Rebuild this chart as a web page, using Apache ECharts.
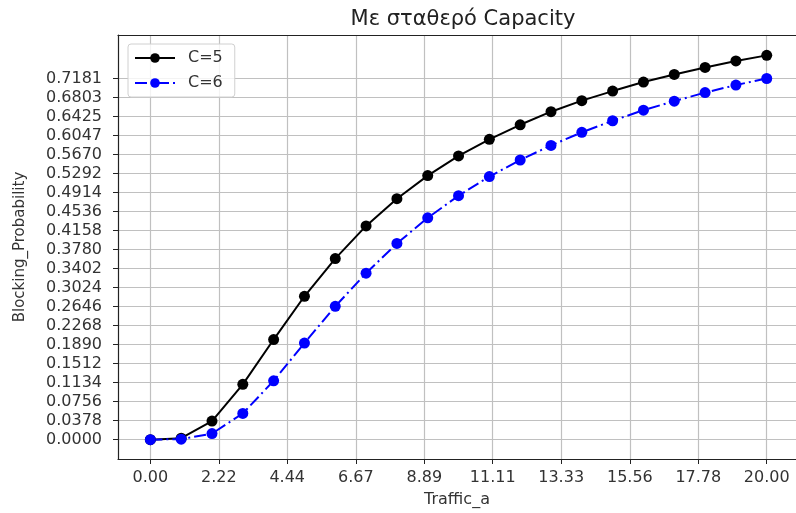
<!DOCTYPE html>
<html>
<head>
    <meta charset="utf-8">
    <script src="https://cdn.jsdelivr.net/npm/echarts@6/dist/echarts.min.js"></script>
    <style>
        html, body { margin: 0; padding: 0; background: #fff; }
    </style>
</head>
<body>
    <div id="main" style="width: 796px;height:513px;"></div>
    <script type="text/javascript">
        // data
        var traffic = [0, 1, 2, 3, 4, 5, 6, 7, 8, 9, 10, 11, 12, 13, 14, 15, 16, 17, 18, 19, 20];
        var blockC5 = [0.000, 0.003, 0.037, 0.110, 0.199, 0.285, 0.360, 0.425, 0.479, 0.525, 0.564,
                       0.597, 0.626, 0.652, 0.674, 0.693, 0.711, 0.726, 0.740, 0.753, 0.764];
        var blockC6 = [0.000, 0.001, 0.012, 0.052, 0.117, 0.192, 0.265, 0.331, 0.390, 0.441, 0.485,
                       0.523, 0.556, 0.585, 0.611, 0.634, 0.655, 0.673, 0.690, 0.705, 0.718];
        var xTicks = ['0.00', '2.22', '4.44', '6.67', '8.89', '11.11', '13.33', '15.56', '17.78', '20.00'];
        var yTicks = ['0.0000', '0.0378', '0.0756', '0.1134', '0.1512', '0.1890', '0.2268', '0.2646',
                      '0.3024', '0.3402', '0.3780', '0.4158', '0.4536', '0.4914', '0.5292', '0.5670',
                      '0.6047', '0.6425', '0.6803', '0.7181'];

        var xVals = xTicks.map(Number);
        var yVals = yTicks.map(Number);

        var pair = function (ys) {
            var res = [];
            for (var i = 0; i < traffic.length; i++) {
                res.push([traffic[i], ys[i]]);
            }
            return res;
        };

        var font = 'DejaVu Sans';
        var xMin = -1.05, xMax = 20.95;
        var myChart = echarts.init(document.getElementById('main'));

        var option = {
            backgroundColor: '#fff',
            animation: false,
            title: {
                text: 'Με σταθερό Capacity',
                left: 458,
                textAlign: 'center',
                top: 4,
                textStyle: { fontFamily: font, fontSize: 21, fontWeight: 'normal', color: '#222' }
            },
            legend: {
                orient: 'vertical',
                left: 128,
                top: 44,
                itemWidth: 40,
                itemHeight: 12,
                itemGap: 9,
                padding: [6, 12, 6, 6],
                borderColor: '#d0d0d0',
                borderWidth: 1,
                borderRadius: 3,
                backgroundColor: 'rgba(255,255,255,0.8)',
                textStyle: { fontFamily: font, fontSize: 16, color: '#333', padding: [0, 0, 0, 8] },
                data: ['C=5', 'C=6']
            },
            grid: { left: 118, right: 0, top: 35, bottom: 52, show: false },
            xAxis: [{
                type: 'value',
                min: xMin,
                max: xMax,
                name: 'Traffic_a',
                nameLocation: 'middle',
                nameGap: 33,
                nameTextStyle: { fontFamily: font, fontSize: 16, color: '#333' },
                axisLine: { show: true, onZero: false, lineStyle: { color: '#222', width: 1.2 } },
                axisTick: { show: true, customValues: xVals, length: 5, lineStyle: { color: '#222' } },
                axisLabel: {
                    customValues: xVals,
                    margin: 11,
                    fontFamily: font, fontSize: 16, color: '#333',
                    formatter: function (v) { return v.toFixed(2); }
                },
                splitLine: { show: true, lineStyle: { color: '#c0c0c0', width: 1.2 } }
            }, {
                // top spine only
                type: 'value',
                position: 'top',
                min: xMin,
                max: xMax,
                axisLine: { show: true, onZero: false, lineStyle: { color: '#222', width: 1.2 } },
                axisTick: { show: false },
                axisLabel: { show: false },
                splitLine: { show: false }
            }],
            yAxis: {
                type: 'value',
                min: -0.0385,
                max: 0.8045,
                name: 'Blocking_Probability',
                nameLocation: 'middle',
                nameGap: 90,
                nameTextStyle: { fontFamily: font, fontSize: 15, color: '#333' },
                axisLine: { show: true, onZero: false, lineStyle: { color: '#222', width: 1.2 } },
                axisTick: { show: true, customValues: yVals, length: 5, lineStyle: { color: '#222' } },
                axisLabel: {
                    customValues: yVals,
                    margin: 16,
                    fontFamily: font, fontSize: 16, color: '#333',
                    formatter: function (v) { return v.toFixed(4); }
                },
                splitLine: { show: true, lineStyle: { color: '#c0c0c0', width: 1.2 } }
            },
            series: [
                {
                    name: 'C=5',
                    type: 'line',
                    data: pair(blockC5),
                    symbol: 'circle',
                    symbolSize: 11,
                    color: '#000',
                    lineStyle: { color: '#000', width: 2 },
                    itemStyle: { color: '#000' }
                },
                {
                    name: 'C=6',
                    type: 'line',
                    data: pair(blockC6),
                    symbol: 'circle',
                    symbolSize: 11,
                    color: '#0000ff',
                    lineStyle: { color: '#0000ff', width: 2, type: [12, 4, 2, 4] },
                    itemStyle: { color: '#0000ff' }
                }
            ]
        };

        myChart.setOption(option);
    </script>
</body>
</html>
